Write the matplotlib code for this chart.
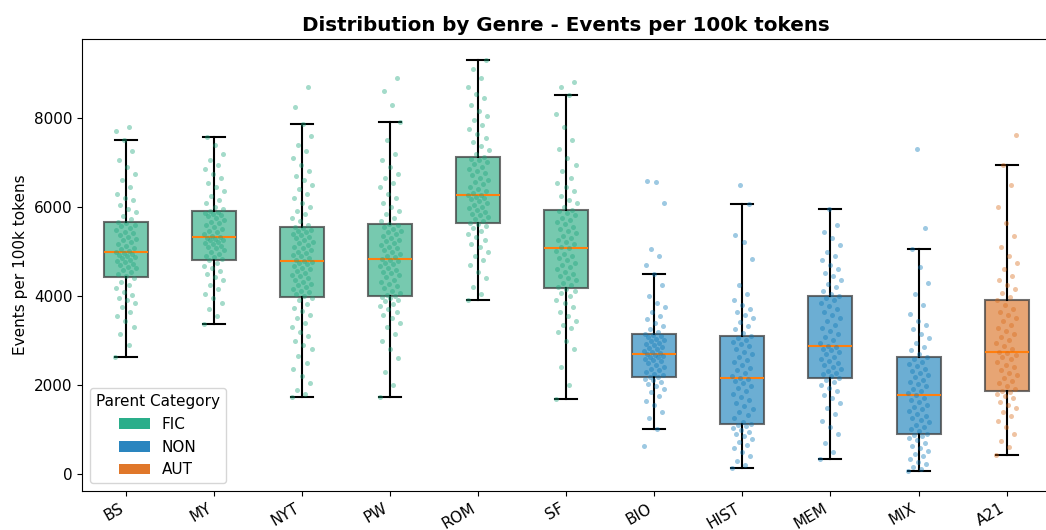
import numpy as np
import matplotlib
matplotlib.use("Agg")
import matplotlib.pyplot as plt
from matplotlib.patches import Patch

genres = ["BS", "MY", "NYT", "PW", "ROM", "SF", "BIO", "HIST", "MEM", "MIX", "A21"]
parent = ["FIC", "FIC", "FIC", "FIC", "FIC", "FIC", "NON", "NON", "NON", "NON", "AUT"]
colors = {"FIC": "#1ca57b", "NON": "#0b78b7", "AUT": "#d86a18"}
legend_colors = {"FIC": "#2aae8a", "NON": "#2a85bf", "AUT": "#e0772a"}

# box stats: whislo, q1, median, q3, whishi
whislo = [2630, 3370, 1740, 1740, 3910, 1690, 1010, 140, 340, 70, 420]
q1 = [4430, 4810, 3980, 4000, 5630, 4170, 2190, 1120, 2160, 910, 1870]
med = [4990, 5330, 4790, 4840, 6280, 5070, 2690, 2160, 2880, 1770, 2740]
q3 = [5660, 5910, 5550, 5620, 7130, 5930, 3150, 3100, 3990, 2630, 3910]
whishi = [7500, 7570, 7870, 7910, 9300, 8520, 4490, 6060, 5960, 5050, 6940]

# individual texts (events per 100k tokens), estimated from the scatter
pts_BS = [2630, 2900, 3150, 3300, 3450, 3550, 3650, 3750, 3850, 3900, 3950, 4020, 4100, 4180, 4250, 4320, 4400,
          4450, 4500, 4540, 4580, 4620, 4660, 4700, 4730, 4760, 4790, 4820, 4850, 4880, 4900, 4930, 4950, 4970, 4990,
          5010, 5050, 5090, 5130, 5170, 5210, 5250, 5290, 5330, 5370, 5410, 5450, 5490, 5530, 5570, 5600, 5630, 5660,
          5720, 5800, 5880, 5950, 6050, 6150, 6200, 6300, 6450, 6600, 6750, 6900, 7050, 7250, 7500, 7700, 7800]
pts_MY = [3370, 3550, 3700, 3850, 3950, 4050, 4150, 4250, 4350, 4420, 4500, 4560, 4620, 4680, 4740, 4800,
          4830, 4870, 4910, 4950, 4990, 5030, 5070, 5100, 5130, 5160, 5190, 5220, 5250, 5270, 5290, 5310, 5330,
          5350, 5390, 5430, 5470, 5510, 5550, 5590, 5630, 5670, 5710, 5750, 5790, 5820, 5850, 5870, 5890, 5910,
          5950, 6000, 6080, 6150, 6250, 6350, 6450, 6550, 6650, 6750, 6850, 6950, 7050, 7200, 7400, 7570]
pts_NYT = [1740, 1800, 1900, 2050, 2200, 2350, 2500, 2650, 2800, 2900, 3000, 3100, 3200, 3300, 3400, 3500, 3580,
           3660, 3740, 3820, 3900, 3960,
           4000, 4040, 4080, 4120, 4160, 4200, 4240, 4280, 4320, 4360, 4400, 4440, 4480, 4520, 4560, 4600, 4640,
           4680, 4710, 4740, 4770, 4790,
           4820, 4850, 4890, 4930, 4970, 5000, 5040, 5080, 5110, 5150, 5190, 5220, 5260, 5300, 5330, 5370, 5400,
           5430, 5460, 5490, 5520, 5550,
           5600, 5680, 5760, 5840, 5920, 6000, 6100, 6200, 6300, 6400, 6500, 6600, 6700, 6800, 6950, 7100, 7250,
           7400, 7600, 7870, 8250, 8700]
pts_PW = [1740, 2000, 2300, 2600, 2800, 3000, 3150, 3300, 3400, 3500, 3580, 3650, 3720, 3780, 3830, 3880, 3920,
          3950, 3980, 3990,
          4020, 4070, 4120, 4170, 4220, 4270, 4320, 4370, 4420, 4470, 4510, 4550, 4590, 4630, 4670, 4710, 4750,
          4780, 4810, 4840,
          4870, 4910, 4950, 4990, 5030, 5070, 5110, 5150, 5190, 5230, 5270, 5310, 5350, 5390, 5430, 5470, 5510,
          5550, 5590, 5620,
          5680, 5760, 5840, 5920, 6000, 6100, 6200, 6300, 6450, 6550, 6650, 6750, 6900, 7050, 7200, 7500, 7910,
          8300, 8600, 8900]
pts_ROM = [3910, 4050, 4200, 4400, 4550, 4700, 4800, 4900, 5000, 5100, 5180, 5260, 5330, 5400, 5460, 5520, 5570, 5610,
           5650, 5690, 5730, 5770, 5810, 5850, 5890, 5930, 5970, 6010, 6050, 6090, 6130, 6170, 6200, 6230, 6260, 6280,
           6310, 6360, 6410, 6460, 6510, 6560, 6610, 6660, 6710, 6760, 6810, 6860, 6910, 6960, 7010, 7050, 7090, 7130,
           7200, 7280, 7360, 7450, 7550, 7650, 7750, 7850, 7950, 8050, 8150, 8300, 8450, 8550, 8700, 8900, 9100, 9300]
pts_SF = [1690, 2000, 2400, 2800, 3000, 3200, 3280, 3350, 3450, 3550, 3650, 3750, 3850, 3920, 4000, 4060, 4110, 4150,
          4200, 4250, 4300, 4350, 4400, 4450, 4500, 4550, 4600, 4650, 4700, 4750, 4800, 4850, 4900, 4950, 5010, 5070,
          5110, 5160, 5210, 5260, 5310, 5360, 5410, 5460, 5510, 5560, 5610, 5660, 5710, 5760, 5810, 5860, 5900, 5930,
          6000, 6080, 6160, 6250, 6350, 6450, 6550, 6650, 6800, 6950, 7100, 7300, 7500, 7800, 8100, 8520, 8700, 8800]
pts_BIO = [636, 1010, 1250, 1400, 1550, 1650, 1750, 1850, 1920, 1980, 2030, 2070, 2110, 2140, 2170, 2190,
           2220, 2250, 2290, 2330, 2370, 2410, 2450, 2490, 2530, 2560, 2590, 2620, 2640, 2660, 2680, 2690,
           2710, 2740, 2770, 2800, 2830, 2860, 2890, 2920, 2950, 2980, 3010, 3040, 3070, 3100, 3130, 3150,
           3200, 3260, 3330, 3400, 3480, 3560, 3650, 3750, 3850, 4000, 4250, 4490, 4700, 4900, 5060, 6090, 6560, 6580]
pts_HIST = [140, 200, 300, 400, 500, 580, 650, 720, 790, 850, 900, 950, 1000, 1040, 1070, 1100, 1120,
            1180, 1250, 1320, 1390, 1460, 1530, 1600, 1670, 1740, 1810, 1870, 1930, 1990, 2040, 2090, 2130, 2160,
            2210, 2270, 2330, 2390, 2450, 2510, 2570, 2630, 2690, 2750, 2810, 2870, 2920, 2970, 3020, 3060, 3100,
            3170, 3250, 3330, 3420, 3500, 3580, 3650, 3720, 3800, 3900, 4050, 4250, 4830, 5220, 5370, 6060, 6490]
pts_MEM = [340, 500, 700, 900, 1050, 1200, 1350, 1480, 1600, 1700, 1780, 1860, 1930, 2000, 2060, 2110, 2160,
           2200, 2240, 2280, 2320, 2360, 2400, 2440, 2490, 2540, 2590, 2640, 2690, 2740, 2780, 2820, 2850, 2880,
           2940, 3010, 3080, 3150, 3220, 3290, 3360, 3430, 3500, 3570, 3640, 3710, 3780, 3840, 3900, 3950, 3990,
           4050, 4120, 4200, 4280, 4360, 4440, 4520, 4600, 4700, 4800, 4900, 5000, 5150, 5300, 5450, 5600, 5960]
pts_MIX = [70, 120, 170, 220, 280, 340, 400, 460, 520, 580, 640, 700, 760, 810, 850, 880, 910,
           960, 1010, 1060, 1110, 1160, 1210, 1260, 1310, 1360, 1410, 1460, 1510, 1560, 1610, 1660, 1720, 1770,
           1820, 1870, 1920, 1970, 2020, 2070, 2120, 2170, 2220, 2270, 2320, 2370, 2420, 2470, 2520, 2580, 2630,
           2700, 2780, 2860, 2950, 3050, 3150, 3250, 3350, 3450, 3600, 3800, 4050, 4300, 4650, 5050, 5540, 7300]
pts_A21 = [420, 600, 750, 900, 1050, 1200, 1300, 1400, 1480, 1560, 1630, 1700, 1750, 1800, 1840, 1870,
           1920, 1980, 2040, 2100, 2160, 2220, 2280, 2340, 2400, 2460, 2520, 2580, 2630, 2680, 2710, 2740,
           2800, 2870, 2940, 3010, 3080, 3150, 3220, 3290, 3360, 3430, 3500, 3570, 3640, 3710, 3800, 3910,
           3980, 4060, 4150, 4250, 4350, 4450, 4600, 4750, 4900, 5100, 5350, 5650, 6000, 6500, 6940, 7620]

points = [pts_BS, pts_MY, pts_NYT, pts_PW, pts_ROM, pts_SF, pts_BIO, pts_HIST, pts_MEM, pts_MIX, pts_A21]

fig = plt.figure(figsize=(10.46, 5.3), dpi=100)
ax = fig.add_axes([0.0784, 0.0736, 0.926, 0.8528])

stats = []
for i, g in enumerate(genres):
    stats.append({"label": g, "whislo": whislo[i], "q1": q1[i], "med": med[i],
                  "q3": q3[i], "whishi": whishi[i], "fliers": []})

pos = np.arange(1, len(genres) + 1)
bp = ax.bxp(stats, positions=pos, widths=0.5, patch_artist=True, showfliers=False,
            boxprops=dict(linewidth=1.5),
            whiskerprops=dict(color="black", linewidth=1.5),
            capprops=dict(color="black", linewidth=1.5),
            medianprops=dict(color="#ff7f0e", linewidth=1.5))
for patch, p in zip(bp["boxes"], parent):
    patch.set_facecolor(matplotlib.colors.to_rgba(colors[p], 0.6))
    patch.set_edgecolor((0.25, 0.25, 0.25, 0.75))

# overlay the individual texts with a small spread in x
for i, vals in enumerate(points):
    vals = np.array(vals)
    k = np.arange(len(vals))
    jit = ((k * 0.618034) % 1 - 0.5) * 0.24
    ax.scatter(pos[i] + jit, vals, s=13, color=colors[parent[i]], alpha=0.4,
               linewidths=0, zorder=3)

ax.set_xlim(0.5, len(genres) + 0.5)
ax.set_ylim(-380, 9775)
ax.set_xticks(pos)
ax.set_xticklabels(genres, rotation=30, ha="right", fontsize=11)
ax.tick_params(axis="y", labelsize=11)
ax.set_yticks([0, 2000, 4000, 6000, 8000])
ax.set_ylabel("Events per 100k tokens", fontsize=11)
ax.set_title("Distribution by Genre - Events per 100k tokens", fontsize=14.3, fontweight="bold")

handles = [Patch(facecolor=legend_colors[c], label=c) for c in ["FIC", "NON", "AUT"]]
ax.legend(handles=handles, title="Parent Category", loc="lower left", fontsize=11, title_fontsize=11)

fig.savefig("out.png", dpi=100)
